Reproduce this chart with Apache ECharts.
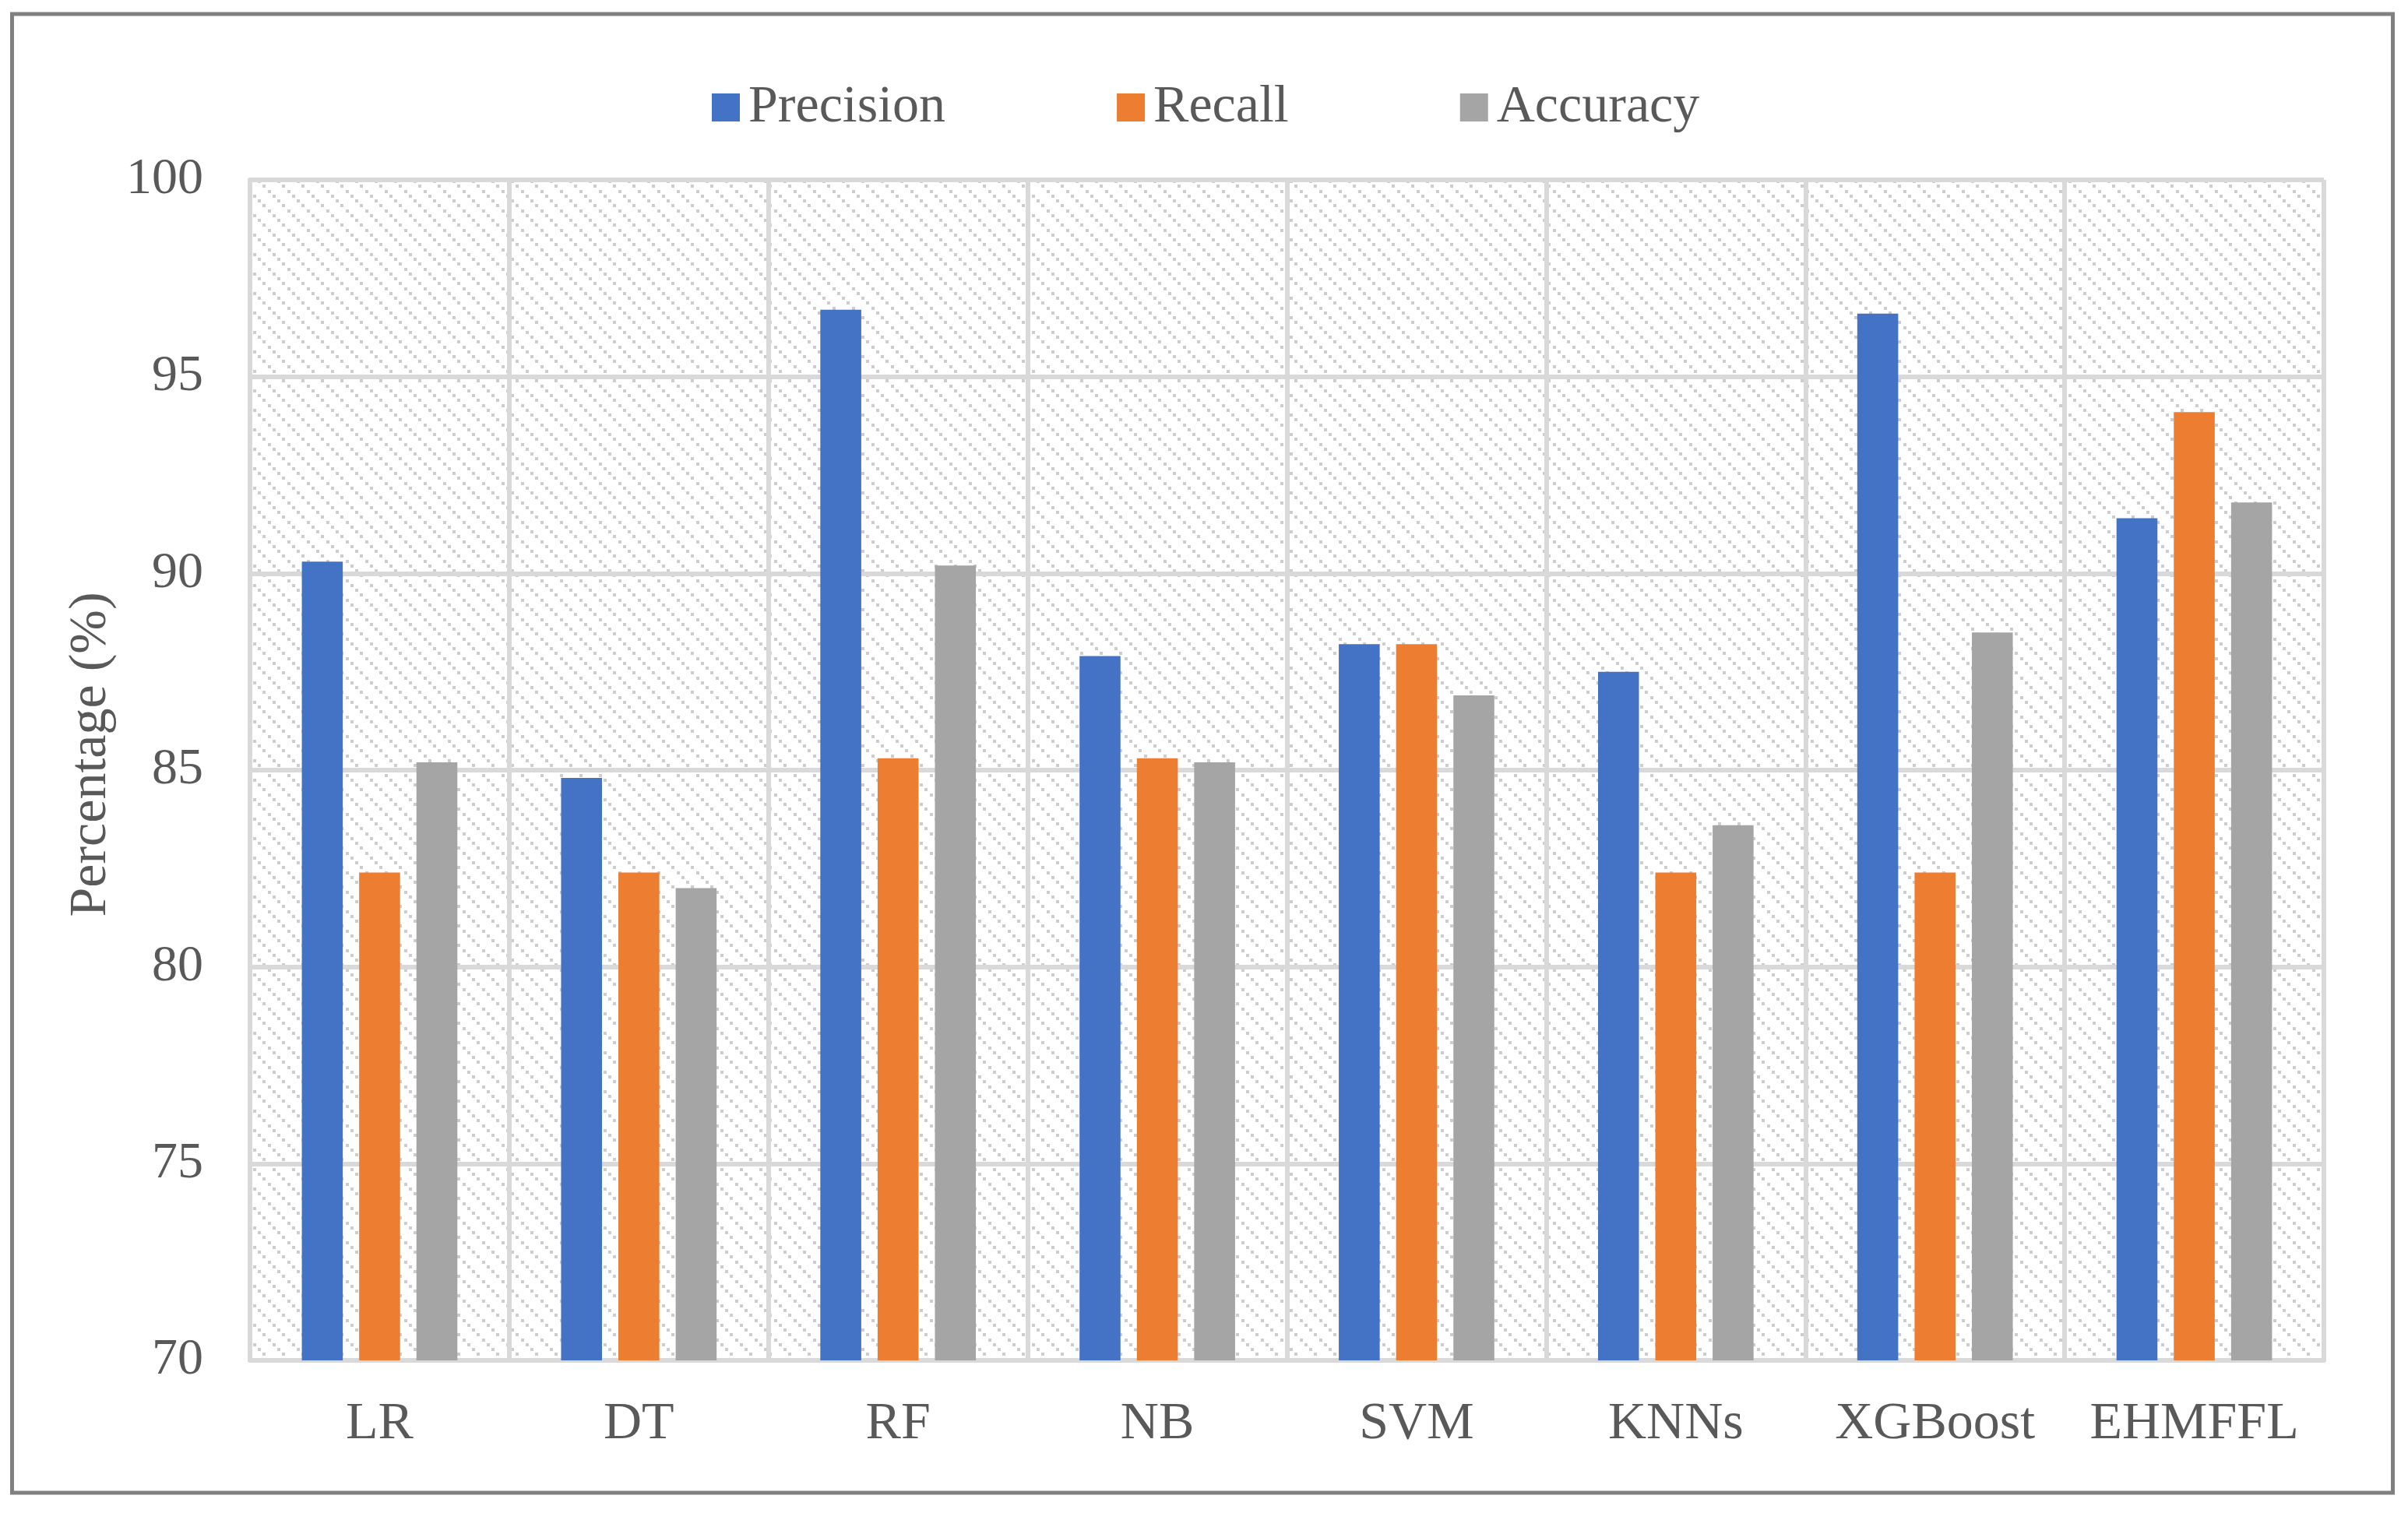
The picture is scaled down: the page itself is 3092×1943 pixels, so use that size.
<!DOCTYPE html>
<html>
<head>
<meta charset="utf-8">
<script src="https://cdn.jsdelivr.net/npm/echarts@6/dist/echarts.min.js"></script>
<style>
html,body{margin:0;padding:0;background:#fff;}
#chart{width:3092px;height:1943px;}
</style>
</head>
<body>
<div id="chart"></div>
<script>
const categories = ['LR', 'DT', 'RF', 'NB', 'SVM', 'KNNs', 'XGBoost', 'EHMFFL'];
const precision = [90.3, 84.8, 96.7, 87.9, 88.2, 87.5, 96.6, 91.4];
const recall    = [82.4, 82.4, 85.3, 85.3, 88.2, 82.4, 82.4, 94.1];
const accuracy  = [85.2, 82.0, 90.2, 85.2, 86.9, 83.6, 88.5, 91.8];
const seriesNames = ['Precision', 'Recall', 'Accuracy'];
const yTicks = [70, 75, 80, 85, 90, 95, 100];

const FONT = "'Liberation Serif', 'Times New Roman', serif";
const TEXT = '#595959';
const GRIDC = '#d9d9d9';

// hatch pattern tile (downward diagonal of small squares)
const tile = document.createElement('canvas');
tile.width = 25; tile.height = 25;
const tc = tile.getContext('2d');
tc.fillStyle = '#ffffff';
tc.fillRect(0, 0, 25, 25);
tc.fillStyle = '#cdcdcd';
[0, 6, 12, 19].forEach(p => { tc.fillRect(p, p, 4, 4); });

const chart = echarts.init(document.getElementById('chart'), null, {renderer: 'canvas'});
chart.setOption({
  animation: false,
  backgroundColor: '#ffffff',
  graphic: [{
    type: 'rect',
    shape: {x: 15.5, y: 18, width: 3057, height: 1899},
    style: {fill: 'none', stroke: '#808080', lineWidth: 5},
    silent: true,
    z: -1
  }],
  legend: {
    data: seriesNames,
    left: 909,
    top: 99,
    icon: 'rect',
    itemWidth: 36,
    itemHeight: 36,
    itemGap: 220,
    textStyle: {fontFamily: FONT, fontSize: 68, color: TEXT, padding: [0, 0, 0, 6]}
  },
  grid: {
    left: 321, right: 108, top: 231, bottom: 196,
    show: true,
    backgroundColor: {image: tile, repeat: 'repeat'},
    borderWidth: 0
  },
  xAxis: {
    type: 'category',
    data: categories,
    axisLine: {show: true, lineStyle: {color: GRIDC, width: 6}},
    axisTick: {show: false},
    splitLine: {show: true, interval: 0, lineStyle: {color: GRIDC, width: 6}},
    axisLabel: {fontFamily: FONT, fontSize: 68, color: TEXT, margin: 48, interval: 0}
  },
  yAxis: {
    type: 'value',
    min: 70, max: 100, interval: 5,
    name: 'Percentage (%)',
    nameLocation: 'middle',
    nameGap: 170,
    nameTextStyle: {fontFamily: FONT, fontSize: 68, color: TEXT, padding: [0, 0, 0, 40]},
    axisLine: {show: true, lineStyle: {color: GRIDC, width: 6}},
    axisTick: {show: false},
    splitLine: {show: true, lineStyle: {color: GRIDC, width: 6}},
    axisLabel: {fontFamily: FONT, fontSize: 66, color: TEXT, margin: 60,
      formatter: v => yTicks.includes(v) ? String(v) : ''}
  },
  series: [
    {name: seriesNames[0], type: 'bar', data: precision, itemStyle: {color: '#4472C4'}, barGap: '40%', barCategoryGap: '40%'},
    {name: seriesNames[1], type: 'bar', data: recall, itemStyle: {color: '#ED7D31'}, barGap: '40%', barCategoryGap: '40%'},
    {name: seriesNames[2], type: 'bar', data: accuracy, itemStyle: {color: '#A5A5A5'}, barGap: '40%', barCategoryGap: '40%'}
  ]
});
</script>
</body>
</html>
